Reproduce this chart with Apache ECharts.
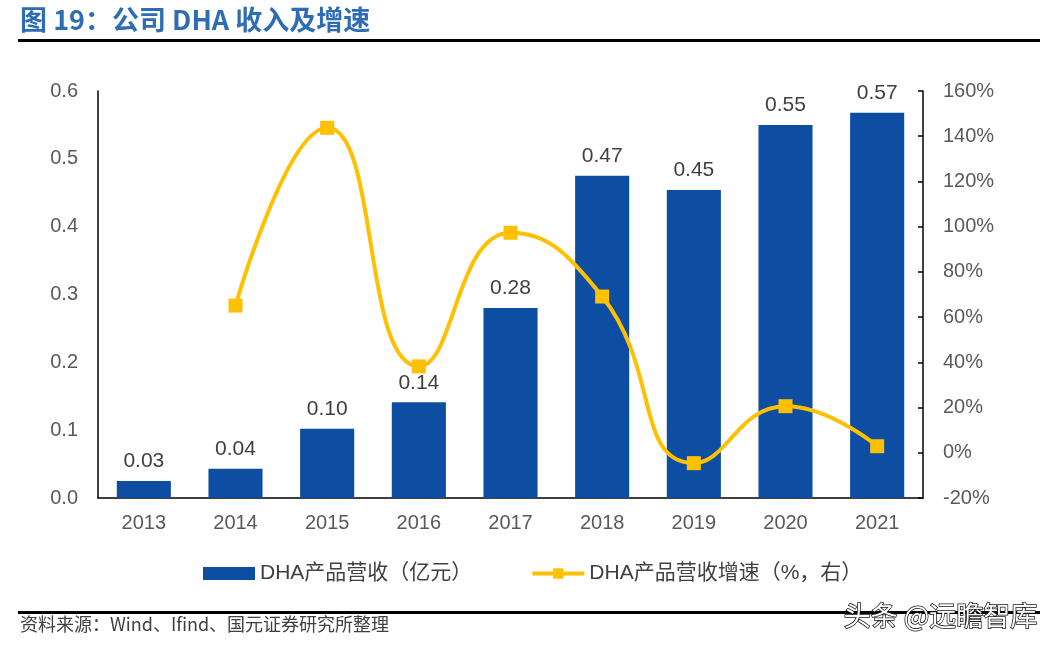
<!DOCTYPE html>
<html><head><meta charset="utf-8">
<script src="https://cdn.jsdelivr.net/npm/echarts@6/dist/echarts.min.js"></script>
<style>html,body{margin:0;padding:0;background:#fff;}#c{width:1056px;height:653px;}</style>
</head><body><div id="c"></div>
<script>
const categories = ['2013','2014','2015','2016','2017','2018','2019','2020','2021'];
const revenue = [0.025, 0.043, 0.102, 0.141, 0.280, 0.475, 0.454, 0.550, 0.568];
const growth = [null, 65.1, 143.7, 38.2, 97.3, 69.1, -4.6, 20.6, 2.9];
const leftTicks = [0, 0.1, 0.2, 0.3, 0.4, 0.5, 0.6];
const rightTicks = [-20, 0, 20, 40, 60, 80, 100, 120, 140, 160];
const FONT = '"Liberation Sans", Arial, "Noto Sans CJK SC", sans-serif';
const chart = echarts.init(document.getElementById('c'), null, {renderer:'canvas'});
chart.setOption({
  animation:false,
  textStyle:{fontFamily:FONT},
  grid:{left:98, right:133, top:91, bottom:155},
  legend:{
    top:558, left:198, itemGap:58, itemWidth:52, itemHeight:13,
    textStyle:{fontSize:21, color:'#404040', fontFamily:FONT},
    data:[
      {name:'DHA产品营收（亿元）', icon:'rect'},
      {name:'DHA产品营收增速（%，右）', lineStyle:{width:4, color:'#FFC000'}, itemStyle:{color:'#FFC000'}}
    ]
  },
  xAxis:{
    type:'category', data:categories,
    axisLine:{lineStyle:{color:'#000', width:1.5}},
    axisTick:{show:false},
    axisLabel:{fontSize:20, color:'#595959', margin:15, fontFamily:FONT}
  },
  yAxis:[{
    type:'value', min:leftTicks[0], max:leftTicks[leftTicks.length-1], interval:0.1,
    axisLine:{show:true, lineStyle:{color:'#000', width:1.5}},
    axisTick:{show:false},
    splitLine:{show:false},
    axisLabel:{fontSize:20, color:'#595959', margin:20, formatter:v=>v.toFixed(1), fontFamily:FONT}
  },{
    type:'value', min:rightTicks[0], max:rightTicks[rightTicks.length-1], interval:20,
    axisLine:{show:true, lineStyle:{color:'#000', width:1.5}},
    axisTick:{show:true, inside:true, length:5, lineStyle:{color:'#000', width:1.5}},
    splitLine:{show:false},
    axisLabel:{fontSize:20, color:'#595959', margin:20, formatter:v=>v+'%', fontFamily:FONT}
  }],
  series:[{
    name:'DHA产品营收（亿元）', type:'bar', data:revenue, barWidth:'59%',
    itemStyle:{color:'#0D4EA2'},
    label:{show:true, position:'top', distance:9, fontSize:21, color:'#404040', formatter:p=>p.value.toFixed(2), fontFamily:FONT}
  },{
    name:'DHA产品营收增速（%，右）', type:'line', yAxisIndex:1, data:growth, smooth:0.5,
    symbol:'rect', symbolSize:14, lineStyle:{color:'#FFC000', width:4},
    itemStyle:{color:'#FFC000'}
  }],
  graphic:[
    {type:'text', left:20, top:6, style:{text:'图 19：公司 DHA 收入及增速', fill:'#2E6DB4', font:'bold 27px "Noto Sans CJK SC", sans-serif'}},
    {type:'rect', shape:{x:18, y:39, width:1022, height:3}, style:{fill:'#000'}},
    {type:'rect', shape:{x:18, y:611, width:1022, height:3}, style:{fill:'#000'}},
    {type:'text', left:20, top:615, style:{text:'资料来源：Wind、Ifind、国元证券研究所整理', fill:'#404040', font:'18px "Noto Sans CJK SC", sans-serif'}},
    {type:'text', left:843, top:601, style:{text:'头条 @远瞻智库', fill:'#fff', stroke:'#111', lineWidth:1.5, font:'27px "Noto Sans CJK SC", sans-serif'}}
  ]
});
</script></body></html>
